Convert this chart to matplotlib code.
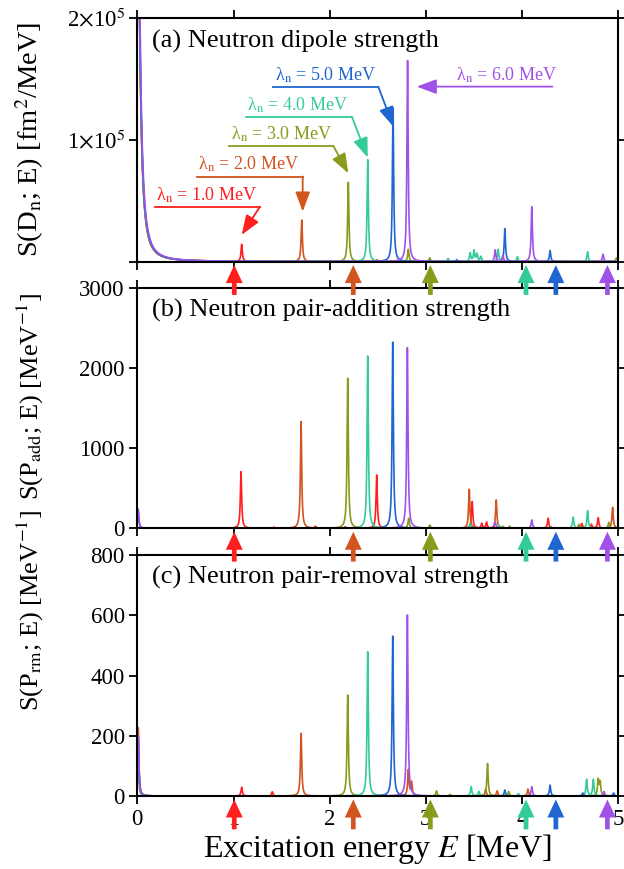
import numpy as np
import matplotlib
matplotlib.use('Agg')
import matplotlib.pyplot as plt
from matplotlib import transforms

plt.rcParams['font.family'] = 'serif'
plt.rcParams['font.serif'] = ['Liberation Serif', 'DejaVu Serif']
plt.rcParams['mathtext.fontset'] = 'stix'

# lambda_n values and colours
LAMBDAS = [1.0, 2.0, 3.0, 4.0, 5.0, 6.0]
COLORS = ['#ff1f1f', '#d2541e', '#8a9a1c', '#33cc99', '#1f66d1', '#a052e8']

# Lorentzian half width used to smear the discrete strengths (MeV)
WIDTH = 0.008
# the low-lying dipole bump near E = 0 is broader
ZERO_WIDTH = 0.03

# energies marked with arrows under each panel (MeV)
THRESH = [1.008, 2.245, 3.046, 4.04, 4.35, 4.886]

# dipole strength at E ~ 0 for each lambda_n
DIP_ZERO = [3.2e5, 3.3e5, 3.3e5, 3.4e5, 3.5e5, 3.8e5]

# (E [MeV], peak height) for each lambda_n
DIP_PEAKS = [
    [(1.085, 14000), (2.49, 1500)],
    [(1.709, 34000), (3.04, 2000)],
    [(2.193, 65000), (2.817, 10000), (3.04, 3000), (4.98, 3000)],
    [(2.395, 83500), (3.23, 2500), (3.46, 7000), (3.50, 9000),
     (3.53, 6000), (3.57, 4000), (3.75, 10000), (3.95, 4000), (4.68, 8000)],
    [(2.658, 126000), (3.32, 1500), (3.82, 27000), (4.29, 9000)],
    [(2.809, 165000), (3.72, 9600), (3.80, 5000), (4.10, 45000), (4.84, 6000)],
]
ADD_PEAKS = [
    [(1.078, 707), (1.42, 15), (1.85, 25), (2.488, 666), (3.48, 333), (3.58, 60),
     (3.63, 75), (4.27, 125), (4.62, 60), (4.72, 50), (4.79, 132)],
    [(1.702, 1333), (2.16, 20), (3.04, 30), (3.45, 487), (3.73, 354), (4.94, 262)],
    [(2.187, 1875), (2.82, 125), (3.04, 40), (3.80, 25), (3.87, 25), (4.30, 20),
     (4.59, 50), (4.90, 75)],
    [(2.395, 2154), (3.46, 60), (3.76, 40), (4.53, 137), (4.68, 220)],
    [(0.01, 200), (2.655, 2325)],
    [(0.01, 240), (2.807, 2258), (3.72, 80), (4.10, 104)],
]
RM_PEAKS = [
    [(1.085, 29), (1.403, 14)],
    [(0.01, 227), (1.702, 208), (2.817, 86), (2.85, 45), (3.62, 23), (3.74, 17),
     (4.06, 23)],
    [(0.01, 100), (2.187, 335), (3.11, 17), (3.25, 5), (3.64, 108), (3.86, 15),
     (4.79, 53), (4.81, 45)],
    [(0.01, 150), (2.395, 479), (3.47, 31), (3.55, 15), (3.96, 8), (4.67, 55),
     (4.74, 55)],
    [(0.01, 197), (2.655, 531), (3.82, 20), (4.29, 36), (4.63, 10), (4.95, 10)],
    [(0.01, 200), (2.807, 601), (4.10, 31), (4.85, 15)],
]

TITLES = ['(a) Neutron dipole strength',
          '(b) Neutron pair-addition strength',
          '(c) Neutron pair-removal strength']
YLABELS = [r'S(D$_\mathrm{n}$; E) [fm$^2$/MeV]',
           r'S(P$_\mathrm{add}$; E) [MeV$^{-1}$]',
           r'S(P$_\mathrm{rm}$; E) [MeV$^{-1}$]']
YMAX = [2e5, 3000, 800]
YTICKS = [[0, 1e5, 2e5], [0, 1000, 2000, 3000], [0, 200, 400, 600, 800]]
YTICKLABELS = [['', r'1$\times$10$^5$', r'2$\times$10$^5$'],
               ['0', '1000', '2000', '3000'],
               ['0', '200', '400', '600', '800']]

# label layout in panel (a): text/line start, line height, knee x, arrow tip
LABEL_POS = [
    (0.184, 45100, 1.275, (1.085, 21900)),
    (0.617, 69800, 1.719, (1.719, 41000)),
    (0.956, 95000, 2.037, (2.193, 72500)),
    (1.130, 119000, 2.229, (2.395, 85400)),
    (1.414, 143600, 2.505, (2.661, 110800)),
    (3.300, 143600, 4.314, (2.904, 143600)),
]

E = np.linspace(0, 5, 10001)


def spectrum(peaks, width=WIDTH):
    s = np.zeros_like(E)
    for e0, h in peaks:
        s += h * width**2 / ((E - e0)**2 + width**2)
    return s


fig = plt.figure(figsize=(6.24, 8.69), dpi=100)
boxes = [[0.22, 0.699, 0.771, 0.2804],
         [0.22, 0.3921, 0.771, 0.2762],
         [0.22, 0.0840, 0.771, 0.2773]]
axes = [fig.add_axes(b) for b in boxes]
label_y = [0.5, 0.547, 0.77]
label_size = [20.5, 19, 19]

for i, (ax, peaks) in enumerate(zip(axes, [DIP_PEAKS, ADD_PEAKS, RM_PEAKS])):
    for k, (pk, c) in enumerate(zip(peaks, COLORS)):
        s = spectrum(pk)
        if i == 0:
            s = s + spectrum([(0.0, DIP_ZERO[k])], ZERO_WIDTH)
        ax.plot(E, s, color=c, lw=1.2)
    ax.set_xlim(0, 5)
    ax.set_ylim(0, YMAX[i])
    ax.set_xticks([0, 1, 2, 3, 4, 5])
    ax.set_yticks(YTICKS[i])
    ax.set_yticklabels(YTICKLABELS[i])
    ax.tick_params(direction='out', length=6, width=1.3, top=True, right=True,
                   labelsize=16.5, pad=3)
    if i < 2:
        ax.tick_params(labelbottom=False)
    for sp in ax.spines.values():
        sp.set_linewidth(1.5)
    ax.text(0.03, 0.88, TITLES[i], transform=ax.transAxes, fontsize=19,
            va='baseline')
    ax.set_ylabel(YLABELS[i], fontsize=label_size[i])
    ax.yaxis.set_label_coords(-0.19, label_y[i])

axes[2].set_xlabel('Excitation energy $E$ [MeV]', fontsize=23, labelpad=2)

# annotations in panel (a)
ax = axes[0]
arrow_kw = dict(arrowstyle='-|>,head_length=1.2,head_width=0.45',
                mutation_scale=10, lw=1.3, shrinkA=0, shrinkB=0)
for (tx, ly, kx, tip), lam, c in zip(LABEL_POS, LAMBDAS, COLORS):
    if tip[0] < tx:
        # arrow runs straight along the underline
        ax.annotate('', xy=tip, xytext=(kx, ly), arrowprops=dict(color=c, **arrow_kw))
    else:
        ax.plot([tx, kx], [ly, ly], color=c, lw=1.3)
        ax.annotate('', xy=tip, xytext=(kx, ly), arrowprops=dict(color=c, **arrow_kw))
    ax.annotate('λ$_\\mathrm{n}$ = %.1f MeV' % lam, xy=(tx, ly), xytext=(1, 1.5),
                textcoords='offset points', color=c, fontsize=13, va='bottom')

# threshold arrows under each panel, drawn on top of everything
for a in axes:
    trans = transforms.blended_transform_factory(a.transData, a.transAxes)
    for t, c in zip(THRESH, COLORS):
        axes[2].annotate('', xy=(t, 0), xycoords=trans, xytext=(0, -24),
                         textcoords='offset points', annotation_clip=False,
                         zorder=10,
                         arrowprops=dict(arrowstyle='simple,head_length=1.3,head_width=1.22,tail_width=0.34',
                                         mutation_scale=10, color=c, lw=0,
                                         shrinkA=0, shrinkB=2.5))

plt.savefig('out.png', dpi=100)
